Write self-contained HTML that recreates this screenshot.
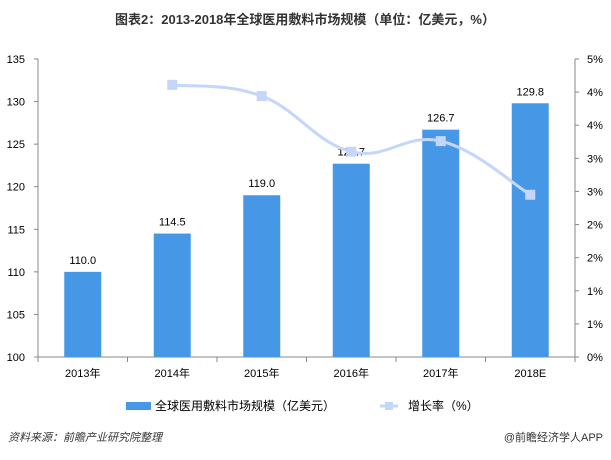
<!DOCTYPE html>
<html><head><meta charset="utf-8"><style>
body{margin:0;background:#fff;font-family:"Liberation Sans","Noto Sans CJK SC",sans-serif;}
svg text{font-family:"Liberation Sans","Noto Sans CJK SC",sans-serif;}
</style></head><body>
<svg width="611" height="455" id="c">
<text x="305" y="24" text-anchor="middle" font-size="13" font-weight="bold" fill="#333">图表2：2013-2018年全球医用敷料市场规模（单位：亿美元，%）</text>
<g id="plot"></g>
<g>
<rect x="126" y="402" width="25" height="8" fill="#4698e6"/>
<text x="155" y="410" font-size="12" fill="#000">全球医用敷料市场规模（亿美元）</text>
<line x1="380" y1="406" x2="398" y2="406" stroke="#c5d6fb" stroke-width="3"/>
<rect x="385" y="402" width="8" height="8" fill="#c5d6fb"/>
<text x="408" y="410" font-size="12" fill="#000">增长率（%）</text>
</g>
<text x="8" y="441" font-size="11" font-style="italic" fill="#333">资料来源：前瞻产业研究院整理</text>
<text x="603" y="441" font-size="11" text-anchor="end" fill="#333">@前瞻经济学人APP</text>
</svg>
<script>
const categories=["2013年","2014年","2015年","2016年","2017年","2018E"];
const barValues=[110.0,114.5,119.0,122.7,126.7,129.8];
const barLabels=["110.0","114.5","119.0","122.7","126.7","129.8"];
const growth=[null,4.11,3.94,3.10,3.26,2.45];
const leftTicks=[100,105,110,115,120,125,130,135];
const rightTicks=[0,0.5,1,1.5,2,2.5,3,3.5,4,4.5];
const rightTickLabels=["0%","1%","1%","2%","2%","3%","3%","4%","4%","5%"];
const NS="http://www.w3.org/2000/svg";
const g=document.getElementById('plot');
const X0=38,X1=575,Y0=357,Y1=59,RMAX=4.5;
const yL=v=>Y0-(v-100)/35*(Y0-Y1);
const yR=v=>Y0-v/RMAX*(Y0-Y1);
const step=(X1-X0)/categories.length;
const xC=i=>X0+step*(i+0.5);
function mk(t,a){const e=document.createElementNS(NS,t);for(const k in a)e.setAttribute(k,a[k]);g.appendChild(e);return e;}
let e;
e=mk('line',{x1:X0,y1:Y1,x2:X0,y2:Y0,stroke:'#888'});


e=mk('line',{x1:X1,y1:Y1,x2:X1,y2:Y0,stroke:'#888'});


e=mk('line',{x1:X0,y1:Y0,x2:X1,y2:Y0,stroke:'#888'});


leftTicks.forEach(v=>{
 mk('line',{x1:X0-4,y1:yL(v),x2:X0,y2:yL(v),stroke:'#888'});
 e=mk('text',{x:25,y:yL(v)+4,'text-anchor':'end','font-size':11,fill:'#000'});e.textContent=v;
 
 
});
rightTicks.forEach((v,i)=>{
 mk('line',{x1:X1,y1:yR(v),x2:X1+4,y2:yR(v),stroke:'#888'});
 e=mk('text',{x:587,y:yR(v)+4,'font-size':11,fill:'#000'});e.textContent=rightTickLabels[i];
 
 
});
for(let i=0;i<=categories.length;i++)mk('line',{x1:X0+step*i,y1:Y0,x2:X0+step*i,y2:Y0+5,stroke:'#888'});
categories.forEach((c,i)=>{
 const bw=37,x=xC(i);
 e=mk('rect',{x:x-bw/2,y:yL(barValues[i]),width:bw,height:Y0-yL(barValues[i]),fill:'#4698e6'});
 
 
 e=mk('text',{x:x,y:yL(barValues[i])-8,'text-anchor':'middle','font-size':11,fill:'#000'});e.textContent=barLabels[i];
 
 
 e=mk('text',{x:x,y:Y0+20,'text-anchor':'middle','font-size':11,fill:'#000'});e.textContent=c;
 
 
});
const pts=[];growth.forEach((v,i)=>{if(v!=null)pts.push([xC(i),yR(v)]);});
let d='M'+pts[0][0]+','+pts[0][1];
for(let i=0;i<pts.length-1;i++){
 const p0=pts[i-1]||pts[i],p1=pts[i],p2=pts[i+1],p3=pts[i+2]||p2,t=0.2;
 d+=` C${p1[0]+(p2[0]-p0[0])*t},${p1[1]+(p2[1]-p0[1])*t} ${p2[0]-(p3[0]-p1[0])*t},${p2[1]-(p3[1]-p1[1])*t} ${p2[0]},${p2[1]}`;
}
e=mk('path',{d:d,fill:'none',stroke:'#c5d6fb','stroke-width':3});


pts.forEach(p=>{
 e=mk('rect',{x:p[0]-5,y:p[1]-5,width:10,height:10,fill:'#c5d6fb'});
 
 
});
</script>
</body></html>
